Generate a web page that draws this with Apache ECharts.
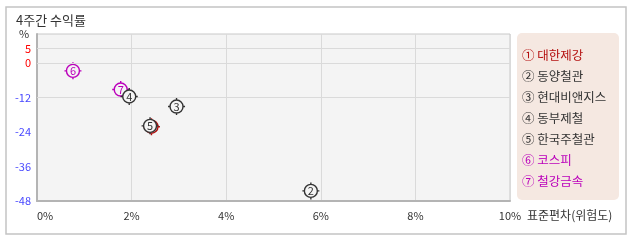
<!DOCTYPE html>
<html><head><meta charset="utf-8">
<script src="https://cdn.jsdelivr.net/npm/echarts@6/dist/echarts.min.js"></script>
<style>html,body{margin:0;padding:0;background:#fff}#c{width:638px;height:242px}</style>
</head><body><div id="c"></div>
<script>
var title = '4주간 수익률';
var names = ['대한제강','동양철관','현대비앤지스','동부제철','한국주철관','코스피','철강금속'];
var marks = ['①','②','③','④','⑤','⑥','⑦'];
var digits = ['1','2','3','4','5','6','7'];
var risk = [2.42, 5.79, 2.95, 1.95, 2.39, 0.76, 1.77];
var ret = [-22.2, -44.5, -15.2, -11.7, -21.9, -2.8, -9.3];
var colors = ['#b40f0f','#333333','#333333','#333333','#333333','#bb00bb','#bb00bb'];
var layer = [1,3,3,3,3,2,2];
var yTicks = [5, 0, -12, -24, -36, -48];
var hGrid = [5, 0, -12];
var xName = '표준편차(위험도)';
var FONT = '"Noto Sans CJK KR", sans-serif';

var sym = 'path://M4,17 A13,13 0 1,1 30,17 A13,13 0 1,1 4,17 Z M17,0 L17,4 M17,30 L17,34 M0,17 L4,17 M30,17 L34,17';

var series = names.map(function(n, i){
  return {
    type: 'scatter', name: n, z: layer[i] + 2,
    data: [[risk[i], ret[i]]],
    symbol: sym, symbolSize: 17,
    itemStyle: {color: '#f4f4f4', borderColor: colors[i], borderWidth: 1.4, opacity: 1},
    label: {show: true, position: 'inside', formatter: digits[i], color: colors[i], fontSize: 11, fontFamily: FONT},
    emphasis: {disabled: true}, silent: true, animation: false
  };
});
series.push({
  type: 'scatter', data: [], z: 1, silent: true, animation: false,
  markLine: {silent: true, symbol: 'none', animation: false, label: {show: false},
    lineStyle: {color: '#dadada', type: 'solid', width: 1},
    data: hGrid.map(function(v){ return {yAxis: v}; })}
});

var graphics = [
  {type: 'rect', shape: {x: 6, y: 7, width: 620, height: 227}, style: {fill: 'none', stroke: '#c4c4c4', lineWidth: 1.5}, silent: true},
  {type: 'text', x: 16, y: 20, style: {text: title, fill: '#333', font: '13px ' + FONT, textVerticalAlign: 'middle'}, silent: true},
  {type: 'rect', shape: {x: 517, y: 33, width: 102, height: 167, r: 5}, style: {fill: '#f5e8e1'}, silent: true},
  {type: 'text', x: 527, y: 215, style: {text: xName, fill: '#333', font: '12px ' + FONT, textVerticalAlign: 'middle'}, silent: true}
];
names.forEach(function(n, i){
  graphics.push({type: 'text', x: 522, y: 55 + i * 21, style: {text: marks[i] + ' ' + n, fill: colors[i], font: '12.5px ' + FONT, textVerticalAlign: 'middle'}, silent: true});
});

var chart = echarts.init(document.getElementById('c'));
chart.setOption({
  animation: false,
  textStyle: {fontFamily: FONT},
  grid: {left: 37, top: 34, right: 128, bottom: 41, show: true, backgroundColor: '#f4f4f4', borderColor: '#c8c8c8', borderWidth: 1},
  xAxis: {
    type: 'value', min: 0, max: 10, interval: 2,
    axisLine: {show: true, onZero: false, lineStyle: {color: '#b4b4b4', width: 2}},
    axisTick: {show: false},
    axisLabel: {color: '#333', fontSize: 11, margin: 9, formatter: '{value}%', alignMinLabel: 'left'},
    splitLine: {show: true, lineStyle: {color: '#dadada', width: 1}}
  },
  yAxis: {
    type: 'value', min: -48, max: 10,
    name: '%', nameLocation: 'end', nameGap: 0,
    nameTextStyle: {color: '#333', fontSize: 11, verticalAlign: 'middle', padding: [0, 26, 0, 0]},
    axisLine: {show: true, onZero: false, lineStyle: {color: '#b4b4b4', width: 2}},
    axisTick: {show: false},
    splitLine: {show: false},
    axisLabel: {
      customValues: yTicks, margin: 6, fontSize: 11,
      formatter: function(v){ return v >= 0 ? '{r|' + v + '}' : '{b|' + v + '}'; },
      rich: {r: {color: '#ff0000', fontSize: 11}, b: {color: '#4848ff', fontSize: 11}}
    }
  },
  series: series,
  graphic: graphics
});
</script></body></html>
